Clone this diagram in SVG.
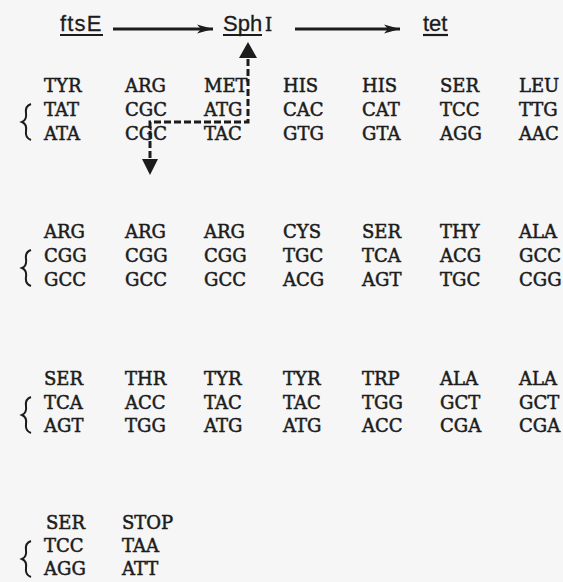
<svg xmlns="http://www.w3.org/2000/svg" width="563" height="582" viewBox="0 0 563 582">
<style>
.t{font-family:"DejaVu Serif","Liberation Serif",serif;font-size:18px;fill:#1c1c1c;stroke:#1c1c1c;stroke-width:0.5}
.l{font-family:"Liberation Sans",Arial,sans-serif;font-size:22px;fill:#1c1c1c;stroke:#1c1c1c;stroke-width:0.3}
.u{stroke:#1c1c1c;stroke-width:2.2}
.br{fill:none;stroke:#1c1c1c;stroke-width:2}
.ar{stroke:#1c1c1c;stroke-width:3;fill:none}
.da{stroke:#1c1c1c;stroke-width:3;fill:none;stroke-dasharray:7 3}
</style>
<defs>
<marker id="ah" viewBox="0 0 16 10" refX="16" refY="5" markerWidth="16" markerHeight="10" markerUnits="userSpaceOnUse" orient="auto">
<path d="M0,0.5 L16,5 L0,9.5 L4,5 Z" fill="#1c1c1c"/>
</marker>
<path id="brace" d="M31,0 Q25,2 26,9 Q27,16 22,18 Q27,20 26,27 Q25,34 31,36" class="br"/>
</defs>
<rect width="563" height="582" fill="#f6f6f6"/>

<g id="ftsE">
<text class="l" x="60" y="31" letter-spacing="1.2">ftsE</text>
<line class="u" x1="60" y1="35" x2="103" y2="35"/>
</g>
<g id="SphI">
<text class="l" x="223" y="31">Sph</text>
<text class="t" x="265" y="31" font-size="21">I</text>
<line class="u" x1="223" y1="35" x2="262" y2="35"/>
</g>
<g id="tet">
<text class="l" x="423" y="31">tet</text>
<line class="u" x1="423" y1="35" x2="448" y2="35"/>
</g>

<g id="block1">
<use href="#brace" y="104"/>
<text class="t" y="92"><tspan x="44">TYR</tspan><tspan x="125">ARG</tspan><tspan x="204">MET</tspan><tspan x="283">HIS</tspan><tspan x="362">HIS</tspan><tspan x="440">SER</tspan><tspan x="519">LEU</tspan></text>
<text class="t" y="116"><tspan x="44">TAT</tspan><tspan x="125">CGC</tspan><tspan x="204">ATG</tspan><tspan x="283">CAC</tspan><tspan x="362">CAT</tspan><tspan x="440">TCC</tspan><tspan x="519">TTG</tspan></text>
<text class="t" y="140"><tspan x="44">ATA</tspan><tspan x="125">CGC</tspan><tspan x="204">TAC</tspan><tspan x="283">GTG</tspan><tspan x="362">GTA</tspan><tspan x="440">AGG</tspan><tspan x="519">AAC</tspan></text>
</g>

<g id="block2">
<use href="#brace" y="250"/>
<text class="t" y="238"><tspan x="44">ARG</tspan><tspan x="125">ARG</tspan><tspan x="204">ARG</tspan><tspan x="283">CYS</tspan><tspan x="362">SER</tspan><tspan x="440">THY</tspan><tspan x="519">ALA</tspan></text>
<text class="t" y="262"><tspan x="44">CGG</tspan><tspan x="125">CGG</tspan><tspan x="204">CGG</tspan><tspan x="283">TGC</tspan><tspan x="362">TCA</tspan><tspan x="440">ACG</tspan><tspan x="519">GCC</tspan></text>
<text class="t" y="286"><tspan x="44">GCC</tspan><tspan x="125">GCC</tspan><tspan x="204">GCC</tspan><tspan x="283">ACG</tspan><tspan x="362">AGT</tspan><tspan x="440">TGC</tspan><tspan x="519">CGG</tspan></text>
</g>

<g id="block3">
<use href="#brace" y="397"/>
<text class="t" y="385"><tspan x="44">SER</tspan><tspan x="125">THR</tspan><tspan x="204">TYR</tspan><tspan x="283">TYR</tspan><tspan x="362">TRP</tspan><tspan x="440">ALA</tspan><tspan x="519">ALA</tspan></text>
<text class="t" y="409"><tspan x="44">TCA</tspan><tspan x="125">ACC</tspan><tspan x="204">TAC</tspan><tspan x="283">TAC</tspan><tspan x="362">TGG</tspan><tspan x="440">GCT</tspan><tspan x="519">GCT</tspan></text>
<text class="t" y="432"><tspan x="44">AGT</tspan><tspan x="125">TGG</tspan><tspan x="204">ATG</tspan><tspan x="283">ATG</tspan><tspan x="362">ACC</tspan><tspan x="440">CGA</tspan><tspan x="519">CGA</tspan></text>
</g>

<g id="block4">
<use href="#brace" y="541"/>
<text class="t" y="529"><tspan x="46">SER</tspan><tspan x="122">STOP</tspan></text>
<text class="t" y="552"><tspan x="44">TCC</tspan><tspan x="122">TAA</tspan></text>
<text class="t" y="575"><tspan x="44">AGG</tspan><tspan x="122">ATT</tspan></text>
</g>

<g id="connectors">
<line class="ar" x1="113" y1="29" x2="213" y2="29" marker-end="url(#ah)"/>
<line class="ar" x1="295" y1="29" x2="400" y2="29" marker-end="url(#ah)"/>
<path class="da" d="M150,158 V122 H248 V58"/>
<path d="M248,42 L257,58 L239,58 Z" fill="#1c1c1c"/>
<path d="M150,175 L142,159 L158,159 Z" fill="#1c1c1c"/>
</g>
</svg>
